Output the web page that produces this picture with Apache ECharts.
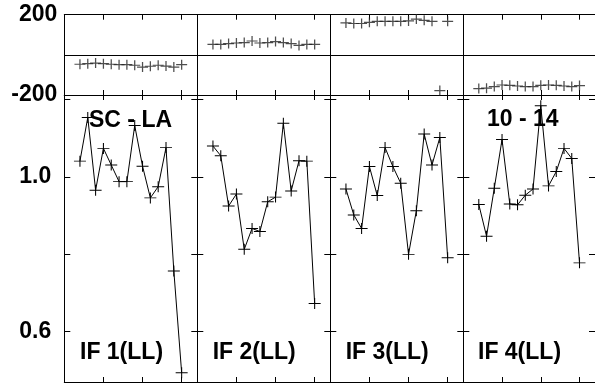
<!DOCTYPE html>
<html>
<head>
<meta charset="utf-8">
<script src="https://cdn.jsdelivr.net/npm/echarts@6/dist/echarts.min.js"></script>
<style>
html, body { margin: 0; padding: 0; background: #fff; }
#chart { width: 595px; height: 383px; }
</style>
</head>
<body>
<div id="chart"></div>
<script>
// x positions of the 14 samples in each panel
var xIdx = [2, 3, 4, 5, 6, 7, 8, 9, 10, 11, 12, 13, 14, 15];

var panelNames = ['IF 1(LL)', 'IF 2(LL)', 'IF 3(LL)', 'IF 4(LL)'];

// upper strip values (-200 .. 200)
var top1 = [-47, -44, -41, -44, -47, -49, -49, -52, -61, -57, -52, -56, -61, -49];
var top2 = [52, 52, 56, 59, 61, 69, 59, 61, 66, 61, 56, 47, 52, 52];
var top3 = [159, 156, 156, 162, 167, 167, 167, 167, 169, 178, 172, 167, -178, 167];
var top4 = [-168, -166, -158, -150, -152, -155, -158, -158, -152, -150, -152, -155, -158, -153];

// lower panel values
var low1 = [1.041, 1.154, 0.966, 1.074, 1.031, 0.988, 0.988, 1.133, 1.028, 0.946, 0.975, 1.076, 0.757, 0.494];
var low2 = [1.080, 1.055, 0.925, 0.956, 0.813, 0.867, 0.859, 0.936, 0.948, 1.139, 0.964, 1.042, 1.041, 0.673];
var low3 = [0.969, 0.902, 0.867, 1.027, 0.952, 1.076, 1.027, 0.984, 0.800, 0.913, 1.111, 1.031, 1.102, 0.791];
var low4 = [0.929, 0.847, 0.971, 1.097, 0.930, 0.928, 0.953, 0.969, 1.184, 0.977, 1.014, 1.074, 1.048, 0.778];

var lowTicks = [0.6, 0.8, 1.0, 1.2];
var lowLabels = [0.6, 1.0];

var tops = [top1, top2, top3, top4];
var lows = [low1, low2, low3, low4];

var myChart = echarts.init(document.getElementById('chart'));

var FONT = 'Liberation Sans';
var lefts = [64.3, 197.3, 330.3, 463.3];
var W = 133;
var cross = 'path://M0,5L10,5M5,0L5,10';

var grids = [], xAxes = [], yAxes = [], series = [];

function pair(vals) {
  return vals.map(function (v, i) { return [xIdx[i], v]; });
}

function xAx(g, pos) {
  return {
    gridIndex: g, type: 'value', min: 0, max: 17, interval: 5, position: pos,
    axisLine: {show: true, onZero: false, lineStyle: {color: '#000', width: 1}},
    axisTick: {show: true, inside: true, length: 5, lineStyle: {color: '#000'}},
    axisLabel: {show: false},
    splitLine: {show: false}
  };
}

for (var p = 0; p < 4; p++) {
  // upper strip
  grids.push({left: lefts[p], top: 14.7, width: W, height: 80.3});
  // lower panel
  grids.push({left: lefts[p], top: 95, width: W, height: 287});
}

for (var g = 0; g < 8; g++) {
  var isTop = g % 2 === 0;
  var p = Math.floor(g / 2);
  xAxes.push(xAx(g, 'bottom'));
  xAxes.push(xAx(g, 'top'));
  if (isTop) {
    yAxes.push({
      gridIndex: g, type: 'value', min: -200, max: 200, interval: 200,
      axisLine: {show: true, onZero: false, lineStyle: {color: '#000'}},
      axisTick: {show: false},
      axisLabel: {
        show: p === 0, margin: 7, color: '#000', fontFamily: FONT, fontWeight: 'bold', fontSize: 23,
        formatter: function (v) { return v === 0 ? '' : String(v); }
      },
      splitLine: {show: true, lineStyle: {color: '#000', width: 1}}
    });
    yAxes.push({
      gridIndex: g, type: 'value', min: -200, max: 200, interval: 200, position: 'right',
      axisLine: {show: true, onZero: false, lineStyle: {color: '#000'}},
      axisTick: {show: false}, axisLabel: {show: false}, splitLine: {show: false}
    });
  } else {
    yAxes.push({
      gridIndex: g, type: 'value', min: 0.47, max: 1.212, position: 'left',
      axisLine: {show: true, onZero: false, lineStyle: {color: '#000'}},
      axisTick: {show: true, inside: true, length: 6, customValues: lowTicks, lineStyle: {color: '#000'}},
      axisLabel: {
        show: p === 0, customValues: lowLabels, margin: 13, color: '#000',
        fontFamily: FONT, fontWeight: 'bold', fontSize: 23,
        formatter: function (v) { return v.toFixed(1); }
      },
      splitLine: {show: false}
    });
    yAxes.push({
      gridIndex: g, type: 'value', min: 0.47, max: 1.212, position: 'right',
      axisLine: {show: true, onZero: false, lineStyle: {color: '#000'}},
      axisTick: {show: true, inside: true, length: 6, customValues: lowTicks, lineStyle: {color: '#000'}},
      axisLabel: {show: false},
      splitLine: {show: false}
    });
  }
}

for (var p = 0; p < 4; p++) {
  series.push({
    type: 'scatter', xAxisIndex: 4 * p, yAxisIndex: 4 * p,
    data: pair(tops[p]), symbol: cross, symbolSize: [11, 10],
    itemStyle: {color: '#000', borderColor: '#222', borderWidth: 1.2},
    silent: true
  });
  series.push({
    type: 'line', xAxisIndex: 4 * p + 2, yAxisIndex: 4 * p + 2,
    data: pair(lows[p]), symbol: cross, symbolSize: [12, 11], showSymbol: true,
    lineStyle: {color: '#000', width: 1},
    itemStyle: {color: '#000', borderColor: '#000', borderWidth: 1},
    silent: true
  });
}

var labelStyle = {font: 'bold 23px "Liberation Sans"', fill: '#000'};
var graphics = [
  {type: 'text', left: 89, top: 109, style: Object.assign({text: 'SC - LA'}, labelStyle)},
  {type: 'text', left: 487, top: 108, style: Object.assign({text: '10 - 14'}, labelStyle)}
];
var nameLefts = [80, 212.7, 345.7, 478];
for (var p = 0; p < 4; p++) {
  graphics.push({type: 'text', left: nameLefts[p], top: 341,
    style: Object.assign({text: panelNames[p]}, labelStyle)});
}

myChart.setOption({
  animation: false,
  backgroundColor: '#fff',
  grid: grids,
  xAxis: xAxes,
  yAxis: yAxes,
  series: series,
  graphic: graphics
});
</script>
</body>
</html>
